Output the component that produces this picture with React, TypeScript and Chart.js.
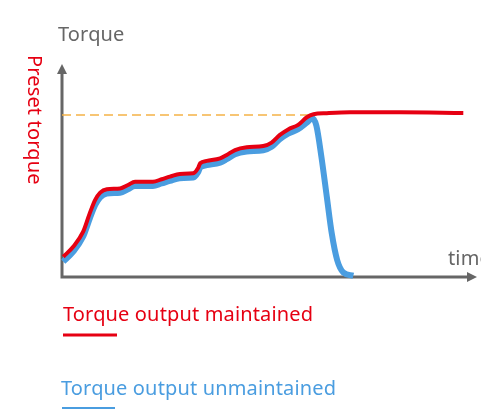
import React, { useEffect, useRef } from "react";
import { Chart, registerables } from "chart.js";

Chart.register(...registerables);

// time axis (0..100) and torque axis (0..100), schematic units
const maintainedX = [0.3, 2.7, 5.1, 6.7, 8.0, 9.2, 10.8, 14.0, 15.9, 17.6, 21.9, 24.0, 26.0, 28.4, 31.6, 32.8, 33.3, 34.9, 38.1, 39.7, 41.7, 44.5, 48.5, 50.5, 52.5, 54.5, 56.9, 59.0, 60.6, 63.8, 69.4, 81.4, 96.7];
const maintainedY = [9.5, 14.2, 21.3, 30.0, 36.2, 39.6, 41.2, 41.6, 43.2, 44.7, 44.7, 45.9, 47.1, 48.4, 48.7, 51.2, 53.4, 54.5, 55.7, 57.3, 59.6, 60.9, 61.5, 63.1, 66.7, 69.3, 71.4, 75.0, 76.4, 76.9, 77.3, 77.3, 77.0];

const unmaintainedX = [0.3, 2.7, 5.1, 6.7, 8.0, 9.2, 10.8, 14.0, 15.9, 17.6, 21.9, 24.0, 26.0, 28.4, 31.6, 32.8, 33.3, 34.9, 38.1, 39.7, 41.7, 44.5, 48.5, 50.5, 52.5, 54.5, 56.9, 59.0, 60.3, 61.3, 62.5, 63.8, 65.0, 66.3, 67.8, 70.2];
const unmaintainedY = [7.2, 11.9, 19.0, 27.5, 33.8, 37.4, 39.2, 39.6, 41.2, 42.7, 42.7, 43.9, 45.1, 46.4, 46.7, 49.2, 51.4, 52.5, 53.7, 55.3, 57.6, 58.9, 59.5, 61.1, 64.7, 67.3, 69.4, 72.5, 74.5, 71.0, 56.5, 37.8, 20.5, 8.0, 2.1, 0.6];

const presetX = [0, 60.4];
const presetY = [76, 76];

const yAxisTitle = "Torque";
const xAxisTitle = "time";
const presetLabel = "Preset torque";
const seriesLabels = ["Torque output maintained", "Torque output unmaintained"];

const RED = "#e60012";
const BLUE = "#4a9de0";
const GRAY = "#666666";
const ORANGE = "#f5b347";
const FONT = "'Noto Sans', 'Open Sans', sans-serif";

const zip = (xs: number[], ys: number[]) => xs.map((x, i) => ({ x, y: ys[i] }));

const schematicPlugin = {
  id: "schematic",
  beforeDatasetsDraw(chart: any) {
    const { ctx, chartArea } = chart;
    const { left, right, top, bottom } = chartArea;
    ctx.save();
    ctx.strokeStyle = GRAY;
    ctx.fillStyle = GRAY;
    ctx.lineWidth = 3;
    ctx.beginPath();
    ctx.moveTo(left, bottom + 1.5);
    ctx.lineTo(left, top + 8);
    ctx.moveTo(left - 1.5, bottom);
    ctx.lineTo(right - 8, bottom);
    ctx.stroke();
    ctx.beginPath();
    ctx.moveTo(left, top);
    ctx.lineTo(left - 5, top + 10);
    ctx.lineTo(left + 5, top + 10);
    ctx.closePath();
    ctx.fill();
    ctx.beginPath();
    ctx.moveTo(right, bottom);
    ctx.lineTo(right - 10, bottom - 5);
    ctx.lineTo(right - 10, bottom + 5);
    ctx.closePath();
    ctx.fill();
    ctx.restore();
  },
  afterDraw(chart: any) {
    const { ctx } = chart;
    ctx.save();
    ctx.textBaseline = "alphabetic";
    ctx.textAlign = "left";
    ctx.font = `20px ${FONT}`;
    (ctx as any).letterSpacing = "0.15px";
    ctx.fillStyle = GRAY;
    ctx.fillText(yAxisTitle, 58, 41);
    ctx.fillText(xAxisTitle, 448, 265);
    // preset torque label, rotated
    ctx.save();
    ctx.translate(28, 55);
    ctx.rotate(Math.PI / 2);
    ctx.fillStyle = RED;
    ctx.fillText(presetLabel, 0, 0);
    ctx.restore();
    // legend
    ctx.fillStyle = RED;
    ctx.fillText(seriesLabels[0], 63, 321);
    ctx.strokeStyle = RED;
    ctx.lineWidth = 3;
    ctx.beginPath();
    ctx.moveTo(63, 335);
    ctx.lineTo(117, 335);
    ctx.stroke();
    ctx.fillStyle = BLUE;
    ctx.fillText(seriesLabels[1], 61, 395);
    ctx.strokeStyle = BLUE;
    ctx.lineWidth = 2;
    ctx.beginPath();
    ctx.moveTo(62, 408);
    ctx.lineTo(115, 408);
    ctx.stroke();
    ctx.restore();
  },
};

export default function App() {
  const ref = useRef<HTMLCanvasElement>(null);
  useEffect(() => {
    if (!ref.current) return;
    const chart = new Chart(ref.current, {
      type: "line",
      data: {
        datasets: [
          {
            label: seriesLabels[0],
            data: zip(maintainedX, maintainedY),
            borderColor: RED,
            borderWidth: 4,
            pointRadius: 0,
            cubicInterpolationMode: "monotone",
            clip: false as any,
            order: 0,
          },
          {
            label: seriesLabels[1],
            data: zip(unmaintainedX, unmaintainedY),
            borderColor: BLUE,
            borderWidth: 6,
            pointRadius: 0,
            cubicInterpolationMode: "monotone",
            clip: false as any,
            order: 1,
          },
          {
            label: presetLabel,
            data: zip(presetX, presetY),
            borderColor: ORANGE,
            borderWidth: 1.5,
            borderDash: [9, 5],
            pointRadius: 0,
            clip: false as any,
            order: 2,
          },
        ],
      },
      options: {
        animation: false,
        responsive: false,
        devicePixelRatio: 1,
        layout: { padding: { left: 62, right: 4, top: 64, bottom: 132 } },
        plugins: { legend: { display: false }, tooltip: { enabled: false } },
        scales: {
          x: { type: "linear", min: 0, max: 100, display: false },
          y: { type: "linear", min: 0, max: 100, display: false },
        },
      },
      plugins: [schematicPlugin],
    });
    return () => chart.destroy();
  }, []);
  return (
    <div style={{ position: "absolute", left: 0, top: 0, width: 481, height: 409 }}>
      <canvas ref={ref} width={481} height={409} />
    </div>
  );
}
